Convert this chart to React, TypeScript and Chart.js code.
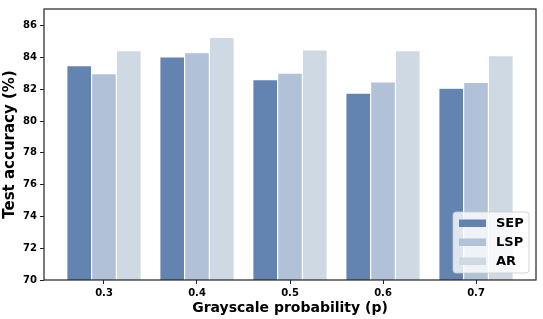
import React, { useEffect, useRef } from "react";
import { Chart, registerables } from "chart.js";

Chart.register(...registerables);

const categories = ["0.3", "0.4", "0.5", "0.6", "0.7"];
const seriesNames = ["SEP", "LSP", "AR"];
const sepValues = [83.48, 84.03, 82.61, 81.76, 82.07];
const lspValues = [82.98, 84.3, 83.02, 82.47, 82.43];
const arValues = [84.43, 85.27, 84.47, 84.43, 84.12];
const yTicks = [70, 72, 74, 76, 78, 80, 82, 84, 86];
const colors = ["#6384b0", "#b0c1d8", "#cfd9e3"];

const FONT = "'DejaVu Sans', sans-serif";

const frameLegendPlugin = {
  id: "frameLegend",
  afterDraw(chart: any) {
    const { ctx, chartArea } = chart;
    const { left, top, right, bottom } = chartArea;
    ctx.save();
    // frame
    ctx.strokeStyle = "#222";
    ctx.lineWidth = 1.2;
    ctx.strokeRect(left, top, right - left, bottom - top);
    // legend
    const lx = right - 83;
    const ly = bottom - 68;
    const lw = 76;
    const lh = 61;
    const r = 3;
    ctx.beginPath();
    ctx.moveTo(lx + r, ly);
    ctx.lineTo(lx + lw - r, ly);
    ctx.quadraticCurveTo(lx + lw, ly, lx + lw, ly + r);
    ctx.lineTo(lx + lw, ly + lh - r);
    ctx.quadraticCurveTo(lx + lw, ly + lh, lx + lw - r, ly + lh);
    ctx.lineTo(lx + r, ly + lh);
    ctx.quadraticCurveTo(lx, ly + lh, lx, ly + lh - r);
    ctx.lineTo(lx, ly + r);
    ctx.quadraticCurveTo(lx, ly, lx + r, ly);
    ctx.closePath();
    ctx.fillStyle = "rgba(255,255,255,0.8)";
    ctx.fill();
    ctx.strokeStyle = "rgba(204,204,204,0.8)";
    ctx.lineWidth = 1;
    ctx.stroke();
    chart.data.datasets.forEach((ds: any, i: number) => {
      const cy = ly + 11 + i * 19;
      ctx.fillStyle = ds.backgroundColor;
      ctx.fillRect(lx + 6, cy - 3.5, 27, 7.5);
      ctx.fillStyle = "#000";
      ctx.font = `bold 13px ${FONT}`;
      ctx.textBaseline = "middle";
      ctx.textAlign = "left";
      ctx.fillText(ds.label, lx + 43, cy + 0.5);
    });
    ctx.restore();
  },
};

export default function App() {
  const ref = useRef<HTMLCanvasElement | null>(null);
  useEffect(() => {
    document.body.style.margin = "0";
    const seriesValues = [sepValues, lspValues, arValues];
    const chart = new Chart(ref.current as HTMLCanvasElement, {
      type: "bar",
      data: {
        datasets: seriesNames.map((name, si) => ({
          label: name,
          data: seriesValues[si].map((v, i) => ({ x: i, y: v })),
          backgroundColor: colors[si],
          borderColor: "rgba(255,255,255,0.35)",
          borderWidth: 0.6,
          categoryPercentage: 0.8,
          barPercentage: 1.0,
        })),
      },
      options: {
        animation: false,
        responsive: false,
        maintainAspectRatio: false,
        layout: { padding: { top: 5, right: 7, left: 0, bottom: 0 } },
        plugins: { legend: { display: false }, tooltip: { enabled: false } },
        scales: {
          x: {
            type: "linear",
            offset: false,
            min: -0.645,
            max: 4.645,
            afterBuildTicks: (scale: any) => {
              scale.ticks = categories.map((_, i) => ({ value: i }));
            },
            afterFit: (scale: any) => {
              scale.height = 39;
            },
            ticks: {
              callback: (v: any) => categories[v] ?? "",
              color: "#000",
              font: { family: FONT, weight: "bold", size: 10 },
              padding: 3,
              maxRotation: 0,
              autoSkip: false,
            },
            grid: {
              offset: false,
              drawOnChartArea: false,
              drawTicks: true,
              tickLength: 4,
              tickColor: "#222",
            },
            border: { display: false },
            title: {
              display: true,
              text: "Grayscale probability (p)",
              color: "#000",
              font: { family: FONT, weight: "bold", size: 14 },
              padding: { top: 0, bottom: 2 },
            },
          },
          y: {
            min: 70,
            max: 87.05,
            afterBuildTicks: (scale: any) => {
              scale.ticks = yTicks.map((v) => ({ value: v }));
            },
            afterFit: (scale: any) => {
              scale.width = 44;
            },
            ticks: {
              color: "#000",
              font: { family: FONT, weight: "bold", size: 10 },
              padding: 3,
            },
            grid: {
              drawOnChartArea: false,
              drawTicks: true,
              tickLength: 4,
              tickColor: "#222",
            },
            border: { display: false },
            title: {
              display: true,
              text: "Test accuracy (%)",
              color: "#000",
              font: { family: FONT, weight: "bold", size: 15 },
              padding: { top: 1, bottom: 0 },
            },
          },
        },
      },
      plugins: [frameLegendPlugin],
    } as any);
    return () => chart.destroy();
  }, []);
  return (
    <div style={{ width: 543, height: 319 }}>
      <canvas ref={ref} width={543} height={319} style={{ display: "block" }} />
    </div>
  );
}
